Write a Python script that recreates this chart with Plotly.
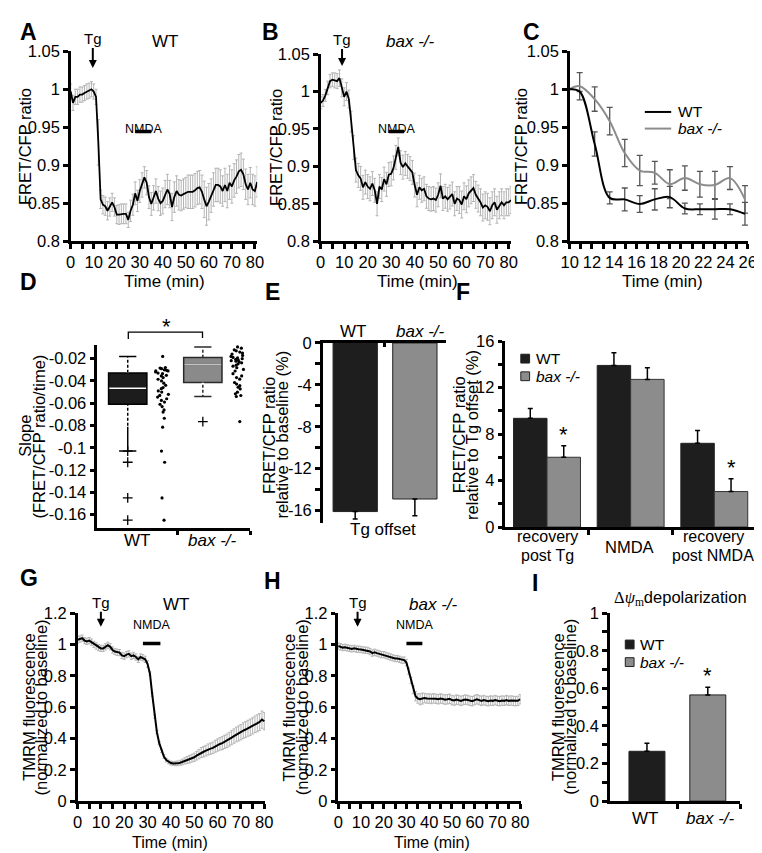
import numpy as np
import plotly.graph_objects as go

W, H = 762, 853
FONT = "Liberation Sans, Arial, sans-serif"
WT_COLOR = "#1e1e1e"
BAX_COLOR = "#8c8c8c"
ERR_LIGHT = "#b4b4b4"

# ---------------- data ----------------
# Panel A: WT FRET/CFP ratio (time in min)
A_time = list(range(0, 82))
A_ratio = [0.997, 0.982, 0.990, 0.990, 0.993, 0.993, 0.995, 0.997, 0.998, 1.000,
           0.997, 0.990, 0.930, 0.855, 0.848, 0.846, 0.840, 0.845, 0.851, 0.845,
           0.835, 0.835, 0.836, 0.836, 0.836, 0.828, 0.840, 0.848, 0.863, 0.853,
           0.866, 0.874, 0.884, 0.877, 0.858, 0.849, 0.857, 0.866, 0.856, 0.850,
           0.853, 0.862, 0.868, 0.862, 0.845, 0.858, 0.866, 0.861, 0.860, 0.862,
           0.864, 0.865, 0.865, 0.865, 0.867, 0.870, 0.871, 0.865, 0.855, 0.846,
           0.852, 0.860, 0.868, 0.874, 0.874, 0.872, 0.866, 0.874, 0.866, 0.877,
           0.872, 0.880, 0.885, 0.892, 0.894, 0.888, 0.875, 0.868, 0.877, 0.868,
           0.866, 0.878]
A_err = [0.010, 0.010, 0.010, 0.010, 0.010, 0.010, 0.010, 0.010, 0.010, 0.010,
         0.010, 0.010, 0.030, 0.012, 0.012, 0.012, 0.012, 0.012, 0.012, 0.012,
         0.012, 0.013, 0.013, 0.013, 0.013, 0.010, 0.014, 0.014, 0.015, 0.014,
         0.015, 0.016, 0.014, 0.016, 0.015, 0.015, 0.016, 0.016, 0.016, 0.016,
         0.017, 0.018, 0.020, 0.018, 0.018, 0.020, 0.020, 0.020, 0.020, 0.020,
         0.020, 0.022, 0.022, 0.022, 0.022, 0.022, 0.022, 0.022, 0.024, 0.025,
         0.024, 0.022, 0.022, 0.022, 0.022, 0.022, 0.020, 0.022, 0.022, 0.022,
         0.022, 0.022, 0.022, 0.022, 0.022, 0.020, 0.020, 0.020, 0.020, 0.020,
         0.020, 0.020]

# Panel B: bax -/- FRET/CFP ratio
B_time = list(range(0, 82))
B_ratio = [0.985, 0.988, 0.995, 1.005, 1.014, 1.016, 1.015, 1.014, 1.018, 1.005,
           0.993, 1.000, 0.990, 0.960, 0.925, 0.895, 0.888, 0.884, 0.872, 0.879,
           0.873, 0.870, 0.877, 0.868, 0.850, 0.873, 0.869, 0.883, 0.876, 0.889,
           0.890, 0.898, 0.912, 0.926, 0.905, 0.899, 0.904, 0.900, 0.897, 0.892,
           0.875, 0.862, 0.872, 0.868, 0.870, 0.860, 0.857, 0.856, 0.857, 0.855,
           0.862, 0.874, 0.857, 0.860, 0.856, 0.859, 0.863, 0.850, 0.857, 0.855,
           0.849, 0.860, 0.856, 0.864, 0.868, 0.871, 0.862, 0.857, 0.852, 0.845,
           0.848, 0.846, 0.840, 0.848, 0.852, 0.842, 0.848, 0.852, 0.848, 0.852,
           0.852, 0.855]
B_err = [0.008, 0.008, 0.008, 0.009, 0.009, 0.009, 0.010, 0.010, 0.011, 0.012,
         0.012, 0.012, 0.012, 0.014, 0.016, 0.016, 0.016, 0.016, 0.016, 0.016,
         0.016, 0.016, 0.016, 0.016, 0.016, 0.016, 0.016, 0.016, 0.016, 0.016,
         0.016, 0.016, 0.016, 0.012, 0.016, 0.016, 0.016, 0.016, 0.016, 0.016,
         0.016, 0.016, 0.016, 0.016, 0.016, 0.016, 0.016, 0.016, 0.016, 0.016,
         0.016, 0.016, 0.016, 0.016, 0.016, 0.016, 0.016, 0.016, 0.016, 0.018,
         0.018, 0.018, 0.018, 0.018, 0.018, 0.018, 0.018, 0.018, 0.018, 0.018,
         0.018, 0.018, 0.018, 0.018, 0.018, 0.018, 0.018, 0.018, 0.018, 0.018,
         0.018, 0.018]

# Panel C: zoom 10-26 min
C_time = [10.0, 10.9, 12.25, 13.6, 14.95, 16.3, 17.65, 19.0, 20.35, 21.7, 23.05, 24.4, 25.75]
C_wt = [1.0, 0.997, 0.928, 0.857, 0.855, 0.849, 0.855, 0.858, 0.843, 0.842, 0.842, 0.842, 0.836]
C_wt_err = [0, 0, 0.016, 0.008, 0.015, 0.011, 0.014, 0.014, 0.007, 0.007, 0.013, 0.007, 0.015]
C_bax = [1.0, 1.004, 0.987, 0.958, 0.916, 0.893, 0.890, 0.875, 0.883, 0.875, 0.874, 0.883, 0.855]
C_bax_err = [0, 0.018, 0.016, 0.018, 0.018, 0.020, 0.015, 0.019, 0.016, 0.017, 0.018, 0.015, 0.018]

# Panel D: slopes
D_wt = [-0.018, -0.028, -0.0285, -0.029, -0.030, -0.0305, -0.031, -0.031, -0.032, -0.033,
        -0.0335, -0.035, -0.0355, -0.037, -0.0385, -0.040, -0.042, -0.044, -0.046, -0.047,
        -0.049, -0.050, -0.052, -0.053, -0.0545, -0.056, -0.0575, -0.059, -0.061, -0.063,
        -0.066, -0.068, -0.0735, -0.0815, -0.103, -0.113, -0.145, -0.165]
D_bax = [-0.0095, -0.0106, -0.0121, -0.013, -0.0141, -0.015, -0.0159, -0.0171, -0.018, -0.0189,
         -0.0194, -0.020, -0.0206, -0.0212, -0.0218, -0.0223, -0.0229, -0.0238, -0.0247, -0.0259,
         -0.0268, -0.0282, -0.0297, -0.0311, -0.0335, -0.0355, -0.037, -0.0384, -0.0414, -0.0428,
         -0.0443, -0.0457, -0.0472, -0.0501, -0.0516, -0.0531, -0.054, -0.0765]

# Panel E: Tg offset
E_groups = ["WT", "bax -/-"]
E_offset = [-16.1, -14.9]
E_err = [0.7, 1.6]

# Panel F
F_cats = ["recovery post Tg", "NMDA", "recovery post NMDA"]
F_wt = [9.35, 13.9, 7.2]
F_wt_err = [0.85, 1.1, 1.1]
F_bax = [6.0, 12.7, 3.05]
F_bax_err = [1.0, 1.0, 1.1]

# Panel G: WT TMRM
G_time = list(range(0, 81))
G_tmrm = [1.030, 1.035, 1.040, 1.025, 1.020, 1.025, 1.015, 1.000, 0.990, 0.980,
          0.975, 0.975, 0.985, 0.995, 0.985, 0.965, 0.955, 0.950, 0.948, 0.930,
          0.925, 0.935, 0.940, 0.925, 0.930, 0.920, 0.905, 0.920, 0.915, 0.905,
          0.875, 0.815, 0.680, 0.540, 0.440, 0.370, 0.320, 0.285, 0.262, 0.250,
          0.243, 0.240, 0.240, 0.241, 0.245, 0.250, 0.257, 0.263, 0.268, 0.274,
          0.280, 0.290, 0.300, 0.310, 0.315, 0.322, 0.330, 0.335, 0.340, 0.350,
          0.358, 0.365, 0.370, 0.378, 0.385, 0.395, 0.405, 0.415, 0.425, 0.432,
          0.440, 0.450, 0.457, 0.465, 0.472, 0.480, 0.490, 0.497, 0.505, 0.520,
          0.510]
G_err = [0.020, 0.020, 0.020, 0.020, 0.020, 0.020, 0.020, 0.020, 0.020, 0.020,
         0.020, 0.020, 0.020, 0.020, 0.020, 0.020, 0.020, 0.020, 0.020, 0.020,
         0.020, 0.020, 0.020, 0.020, 0.020, 0.020, 0.020, 0.020, 0.020, 0.020,
         0.020, 0.010, 0.010, 0.010, 0.010, 0.010, 0.010, 0.012, 0.012, 0.012,
         0.012, 0.012, 0.014, 0.015, 0.016, 0.018, 0.020, 0.022, 0.024, 0.025,
         0.026, 0.028, 0.030, 0.032, 0.033, 0.034, 0.035, 0.036, 0.037, 0.038,
         0.039, 0.040, 0.041, 0.042, 0.043, 0.044, 0.045, 0.046, 0.047, 0.048,
         0.049, 0.050, 0.050, 0.051, 0.052, 0.052, 0.053, 0.054, 0.054, 0.055,
         0.055]

# Panel H: bax -/- TMRM
H_time = list(range(0, 81))
H_tmrm = [0.990, 0.985, 0.980, 0.982, 0.978, 0.975, 0.972, 0.975, 0.970, 0.970,
          0.968, 0.965, 0.963, 0.962, 0.955, 0.945, 0.950, 0.945, 0.940, 0.935,
          0.935, 0.930, 0.925, 0.920, 0.915, 0.910, 0.910, 0.905, 0.900, 0.900,
          0.885, 0.830, 0.770, 0.710, 0.670, 0.655, 0.650, 0.655, 0.658, 0.655,
          0.655, 0.652, 0.656, 0.653, 0.650, 0.655, 0.652, 0.648, 0.650, 0.653,
          0.645, 0.642, 0.648, 0.645, 0.640, 0.645, 0.648, 0.645, 0.640, 0.638,
          0.645, 0.650, 0.645, 0.640, 0.645, 0.640, 0.638, 0.642, 0.640, 0.645,
          0.640, 0.638, 0.642, 0.640, 0.645, 0.640, 0.642, 0.640, 0.638, 0.640,
          0.650]
H_err = [0.020, 0.020, 0.020, 0.020, 0.020, 0.020, 0.020, 0.020, 0.020, 0.020,
         0.020, 0.020, 0.020, 0.020, 0.020, 0.020, 0.020, 0.020, 0.020, 0.020,
         0.020, 0.020, 0.020, 0.020, 0.020, 0.020, 0.020, 0.020, 0.020, 0.020,
         0.020, 0.020, 0.020, 0.025, 0.030, 0.030, 0.035, 0.035, 0.030, 0.030,
         0.030, 0.030, 0.030, 0.030, 0.030, 0.030, 0.030, 0.030, 0.030, 0.030,
         0.030, 0.030, 0.030, 0.030, 0.030, 0.030, 0.030, 0.030, 0.030, 0.030,
         0.030, 0.030, 0.030, 0.030, 0.030, 0.030, 0.030, 0.030, 0.030, 0.030,
         0.030, 0.030, 0.030, 0.030, 0.030, 0.030, 0.030, 0.030, 0.030, 0.030,
         0.030]

# Panel I
I_groups = ["WT", "bax -/-"]
I_depol = [0.265, 0.565]
I_err = [0.043, 0.041]

FRET_TICKS = [0.8, 0.85, 0.9, 0.95, 1.0, 1.05]
FRET_TICKTEXT = ["0.8", "0.85", "0.9", "0.95", "1", "1.05"]
SLOPE_TICKS = [-0.16, -0.14, -0.12, -0.1, -0.08, -0.06, -0.04, -0.02]
SLOPE_TICKTEXT = ["-0.16", "-0.14", "-0.12", "-0.1", "-0.08", "-0.06", "-0.04", "-0.02"]
E_TICKS = [-16, -12, -8, -4, 0]
E_TICKTEXT = ["-16", "-12", "-8", "-4", "0"]


def px(x):
    return x / W


def py(y):
    return 1 - y / H


fig = go.Figure()

# A
fig.add_trace(go.Scatter(x=A_time, y=A_ratio, mode="lines", line=dict(color="black", width=1.8),
                         error_y=dict(type="data", array=A_err, color=ERR_LIGHT, thickness=1, width=1.5),
                         xaxis="x", yaxis="y"))
# B
fig.add_trace(go.Scatter(x=B_time, y=B_ratio, mode="lines", line=dict(color="black", width=1.8),
                         error_y=dict(type="data", array=B_err, color=ERR_LIGHT, thickness=1, width=1.5),
                         xaxis="x2", yaxis="y2"))
# C
fig.add_trace(go.Scatter(x=C_time, y=C_bax, mode="lines", line=dict(color=BAX_COLOR, width=2, shape="spline", smoothing=1),
                         error_y=dict(type="data", array=C_bax_err, color="#555555", thickness=1.3, width=3),
                         xaxis="x3", yaxis="y3"))
fig.add_trace(go.Scatter(x=C_time, y=C_wt, mode="lines", line=dict(color="black", width=2, shape="spline", smoothing=1),
                         error_y=dict(type="data", array=C_wt_err, color="#555555", thickness=1.3, width=3),
                         xaxis="x3", yaxis="y3"))

# D boxes
D_POS = {"WT": 0.40, "bax": 1.38}
BOX_W = 0.5
for key, vals, fill, lc, medc in [("WT", D_wt, "#1c1c1c", "black", "white"),
                                  ("bax", D_bax, "#8a8a8a", "#2a2a2a", "#c4c4c4")]:
    fig.add_trace(go.Box(y=vals, x0=D_POS[key], width=BOX_W, boxpoints="all", jitter=0.45, pointpos=1.85,
                         fillcolor=fill, line=dict(color=lc, width=1.5), whiskerwidth=0.45,
                         marker=dict(color="black", size=3.2), xaxis="x4", yaxis="y4"))
    arr = np.array(vals)
    q1, med, q3 = np.percentile(arr, [25, 50, 75])
    iqr = q3 - q1
    lo_w = arr[arr >= q1 - 1.5 * iqr].min()
    hi_w = arr[arr <= q3 + 1.5 * iqr].max()
    outl = arr[(arr < q1 - 1.5 * iqr) | (arr > q3 + 1.5 * iqr)]
    # dashed look for the whiskers: white gaps over the solid whisker line
    for a, b in [(hi_w, q3), (q1, lo_w)]:
        fig.add_trace(go.Scatter(x=[D_POS[key], D_POS[key]], y=[a - 0.08 * (a - b), b + 0.02 * (a - b)],
                                 mode="lines", line=dict(color="white", width=2.5, dash="2px,3px"),
                                 xaxis="x4", yaxis="y4"))
    fig.add_trace(go.Scatter(x=[D_POS[key] - BOX_W / 2 + 0.01, D_POS[key] + BOX_W / 2 - 0.01], y=[med, med],
                             mode="lines", line=dict(color=medc, width=1.5), xaxis="x4", yaxis="y4"))
    fig.add_trace(go.Scatter(x=[D_POS[key]] * len(outl), y=outl, mode="markers",
                             marker=dict(symbol="cross-thin", size=7, line=dict(color="black", width=1.3)),
                             xaxis="x4", yaxis="y4"))

# E bars
E_POS = [0.53, 1.5]
fig.add_trace(go.Bar(x=E_POS, y=E_offset, width=0.72, marker=dict(color=[WT_COLOR, BAX_COLOR], line=dict(color="#222", width=1)),
                     error_y=dict(type="data", symmetric=False, array=[0, 0], arrayminus=E_err, color="black", thickness=1.5, width=2.5),
                     xaxis="x5", yaxis="y5"))

# F bars
F_POS = np.array([0.5, 1.5, 2.5])
fig.add_trace(go.Bar(x=F_POS - 0.2, y=F_wt, width=0.4, marker=dict(color=WT_COLOR, line=dict(color="#222", width=1)),
                     error_y=dict(type="data", symmetric=False, array=F_wt_err, arrayminus=[0, 0, 0], color="black", thickness=1.5, width=2.5),
                     xaxis="x6", yaxis="y6"))
fig.add_trace(go.Bar(x=F_POS + 0.2, y=F_bax, width=0.4, marker=dict(color=BAX_COLOR, line=dict(color="#333", width=1)),
                     error_y=dict(type="data", symmetric=False, array=F_bax_err, arrayminus=[0, 0, 0], color="black", thickness=1.5, width=2.5),
                     xaxis="x6", yaxis="y6"))

# G
fig.add_trace(go.Scatter(x=G_time, y=G_tmrm, mode="lines", line=dict(color="black", width=2),
                         error_y=dict(type="data", array=G_err, color=ERR_LIGHT, thickness=1, width=1.5),
                         xaxis="x7", yaxis="y7"))
# H
fig.add_trace(go.Scatter(x=H_time, y=H_tmrm, mode="lines", line=dict(color="black", width=2),
                         error_y=dict(type="data", array=H_err, color=ERR_LIGHT, thickness=1, width=1.5),
                         xaxis="x8", yaxis="y8"))
# I
I_POS = [0.57, 1.5]
fig.add_trace(go.Bar(x=I_POS, y=I_depol, width=0.55, marker=dict(color=[WT_COLOR, BAX_COLOR], line=dict(color="#222", width=1)),
                     error_y=dict(type="data", symmetric=False, array=I_err, arrayminus=[0, 0], color="black", thickness=1.5, width=2.5),
                     xaxis="x9", yaxis="y9"))

# ---------------- axes ----------------
TICKFONT = dict(family=FONT, size=16.5, color="black")
common = dict(showline=True, linecolor="black", linewidth=3, ticks="outside", ticklen=4.5, tickwidth=2.5,
              tickcolor="black", showgrid=False, zeroline=False, tickfont=TICKFONT, fixedrange=True)


def mn(**kw):
    d = dict(ticks="outside", ticklen=4.5, tickwidth=2.5, tickcolor="black", showgrid=False)
    d.update(kw)
    return d


def xax(x0, x1, rng, anchor, **kw):
    d = dict(common)
    d.update(domain=[px(x0), px(x1)], range=rng, anchor=anchor)
    d.update(kw)
    return d


def yax(ytop, ybot, rng, anchor, **kw):
    d = dict(common)
    d.update(domain=[py(ybot), py(ytop)], range=rng, anchor=anchor)
    d.update(kw)
    return d


BOT = 801
layout_axes = dict(
    xaxis=xax(55, 246, [0, 81], "y", tick0=0, dtick=10, minor=mn(dtick=5)),
    yaxis=yax(35, 229, [0.8, 1.05], "x", tickvals=FRET_TICKS, ticktext=FRET_TICKTEXT),
    xaxis2=xax(311, 506, [0, 81], "y2", tick0=0, dtick=10, minor=mn(dtick=5)),
    yaxis2=yax(38, 229, [0.8, 1.05], "x2", tickvals=FRET_TICKS, ticktext=FRET_TICKTEXT),
    xaxis3=xax(566, 749, [10, 26.05], "y3", tick0=10, dtick=2, minor=mn(dtick=1)),
    yaxis3=yax(35, 229, [0.8, 1.05], "x3", tickvals=FRET_TICKS, ticktext=FRET_TICKTEXT),
    xaxis4=xax(82, 239, [0, 2], "y4", tickvals=[1.05, 2], ticktext=[" ", " "]),
    yaxis4=yax(335, 522, [-0.172, -0.0077], "x4", tickvals=SLOPE_TICKS, ticktext=SLOPE_TICKTEXT),
    xaxis5=xax(313, 439, [0, 2], "y5", side="top", ticks="inside", tickvals=[1, 2], ticktext=[" ", " "]),
    yaxis5=yax(333, 517, [-17.2, 0], "x5", tickvals=E_TICKS, ticktext=E_TICKTEXT,
               minor=mn(tickvals=[-14, -10, -6, -2])),
    xaxis6=xax(500, 757, [0, 3], "y6", tickvals=[1, 2, 3], ticktext=[" ", " ", " "]),
    yaxis6=yax(331, 521, [0, 16], "x6", tick0=0, dtick=4, minor=mn(dtick=2)),
    xaxis7=xax(62, 254, [0, 80.3], "y7", tick0=0, dtick=10, minor=mn(dtick=5)),
    yaxis7=yax(609, BOT, [0, 1.2], "x7", tick0=0, dtick=0.2),
    xaxis8=xax(329, 516, [0, 80.3], "y8", tick0=0, dtick=10, minor=mn(dtick=5)),
    yaxis8=yax(609, BOT, [0, 1.2], "x8", tick0=0, dtick=0.2),
    xaxis9=xax(607, 741, [0, 2], "y9", tickvals=[1.03, 2], ticktext=[" ", " "]),
    yaxis9=yax(609, BOT, [0, 1], "x9", tick0=0, dtick=0.2, minor=mn(dtick=0.1)),
)

# ---------------- annotations ----------------
ann = []


def text(x, y, t, size=16, angle=0, xanchor="center", **kw):
    ann.append(dict(x=px(x), y=py(y), xref="paper", yref="paper", text=t, showarrow=False,
                    font=dict(family=FONT, size=size, color="black"), textangle=angle,
                    xanchor=xanchor, yanchor="middle", **kw))


# panel letters
for lab, x, y in [("A", 12, 15), ("B", 260, 15), ("C", 527, 15), ("D", 12, 271), ("E", 262, 281),
                  ("F", 457, 281), ("G", 12, 573), ("H", 262, 576), ("I", 531, 578)]:
    text(x, y, "<b>%s</b>" % lab, size=23)

# y-axis titles
text(8, 132, "FRET/CFP ratio", size=16.5, angle=-90)
text(265, 133, "FRET/CFP ratio", size=16.5, angle=-90)
text(516, 132, "FRET/CFP ratio", size=16.5, angle=-90)
text(8, 428, "Slope", size=16.5, angle=-90)
text(22, 428, "(FRET/CFP ratio/time)", size=16.5, angle=-90)
text(258, 427, "FRET/CFP ratio", size=16.5, angle=-90)
text(271, 427, "relative to baseline (%)", size=16.5, angle=-90)
text(453, 427, "FRET/CFP ratio", size=16.5, angle=-90)
text(466, 427, "relative to Tg offset (%)", size=16.5, angle=-90)
for xa in (12, 279, 554):
    text(xa, 705, "TMRM fluorescence", size=16.5, angle=-90)
    text(xa + 13, 705, "(normalized to baseline)", size=16.5, angle=-90)

# x-axis titles
text(151, 270, "Time (min)", size=17)
text(410, 270, "Time (min)", size=17)
text(661, 270, "Time (min)", size=17)
text(157, 843, "Time (min)", size=16)
text(425, 843, "Time (min)", size=16)

# category labels
text(123, 535, "WT", size=17)
text(200, 535, "<i>bax -/-</i>", size=17)
text(344, 321, "WT", size=17)
text(413, 321, "<i>bax -/-</i>", size=17)
text(375, 524, "Tg offset", size=17)
text(543, 531, "recovery", size=16)
text(543, 550, "post Tg", size=16)
text(627, 541, "NMDA", size=16.5)
text(713, 531, "recovery", size=16)
text(713, 550, "post NMDA", size=16)
text(643, 819, "WT", size=17)
text(710, 819, "<i>bax -/-</i>", size=17)

# condition titles
text(152, 25, "WT", size=17)
text(403, 25, "<i>bax -/-</i>", size=17)
text(163, 600, "WT", size=17)
text(427, 600, "<i>bax -/-</i>", size=17)

# Tg labels with arrows (text sits at the arrow tail)
for xr, xd, yt, ytip in [("x", 9.6, 23, 52), ("x2", 9.1, 24, 50),
                         ("x7", 10.0, 599, 623), ("x8", 8.5, 599, 623)]:
    ann.append(dict(x=xd, y=py(ytip), xref=xr, yref="paper", text="Tg", showarrow=True,
                    ax=0, ay=-(ytip - yt), axref="pixel", ayref="pixel", arrowhead=2, arrowsize=0.8,
                    arrowwidth=2, arrowcolor="black", borderpad=0,
                    font=dict(family=FONT, size=15, color="black")))

# NMDA labels
shapes = []
for xr, x0, x1, ylab, ybar in [("x", 28, 35, 105, 117), ("x2", 29, 35.5, 105, 117),
                               ("x7", 28, 35.5, 630, 640), ("x8", 30, 37, 630, 640)]:
    ann.append(dict(x=(x0 + x1) / 2, y=py(ylab), xref=xr, yref="paper", text="NMDA", showarrow=False,
                    font=dict(family=FONT, size=12.5, color="black")))
    shapes.append(dict(type="line", xref=xr, yref="paper", x0=x0, x1=x1, y0=py(ybar), y1=py(ybar),
                       line=dict(color="black", width=3.5)))

# significance
text(153, 316, "*", size=22)
shapes.append(dict(type="path", xref="paper", yref="paper",
                   path="M %f %f L %f %f L %f %f L %f %f" % (px(114), py(329), px(114), py(322), px(190), py(322), px(190), py(328)),
                   line=dict(color="black", width=1.3)))
ann.append(dict(x=F_POS[0] + 0.2, y=F_bax[0] + F_bax_err[0] + 1.0, xref="x6", yref="y6", text="*", showarrow=False,
                font=dict(family=FONT, size=22, color="black")))
ann.append(dict(x=F_POS[2] + 0.2, y=F_bax[2] + F_bax_err[2] + 1.0, xref="x6", yref="y6", text="*", showarrow=False,
                font=dict(family=FONT, size=22, color="black")))
ann.append(dict(x=I_POS[1], y=I_depol[1] + I_err[1] + 0.06, xref="x9", yref="y9", text="*", showarrow=False,
                font=dict(family=FONT, size=22, color="black")))

# panel I title
text(680, 594, '<span style="font-family:Liberation Serif">Δ<i>ψ</i><sub>m</sub></span>depolarization', size=16.5)

# legends (C, F, I)
shapes.append(dict(type="line", xref="paper", yref="paper", x0=px(643), x1=px(670), y0=py(97), y1=py(97),
                   line=dict(color="black", width=2)))
shapes.append(dict(type="line", xref="paper", yref="paper", x0=px(643), x1=px(670), y0=py(114), y1=py(114),
                   line=dict(color=BAX_COLOR, width=2)))
text(675, 97, "WT", size=15.5, xanchor="left")
text(675, 114, "<i>bax -/-</i>", size=15.5, xanchor="left")
for xs, ywt, ybx in [(516, 349, 367), (623, 641, 659)]:
    for yy, col in [(ywt, WT_COLOR), (ybx, BAX_COLOR)]:
        shapes.append(dict(type="rect", xref="paper", yref="paper", x0=px(xs), x1=px(xs + 9),
                           y0=py(yy + 4.5), y1=py(yy - 4.5), fillcolor=col, line=dict(color="#222", width=1)))
    text(xs + 13, ywt, "WT", size=15.5, xanchor="left")
    text(xs + 13, ybx, "<i>bax -/-</i>", size=15.5, xanchor="left")

fig.update_layout(
    width=W, height=H, margin=dict(l=0, r=0, t=0, b=0),
    paper_bgcolor="white", plot_bgcolor="white", showlegend=False,
    barmode="overlay", boxmode="overlay",
    font=dict(family=FONT, size=16, color="black"),
    annotations=ann, shapes=shapes,
    **layout_axes,
)

fig.write_html("out.html")
